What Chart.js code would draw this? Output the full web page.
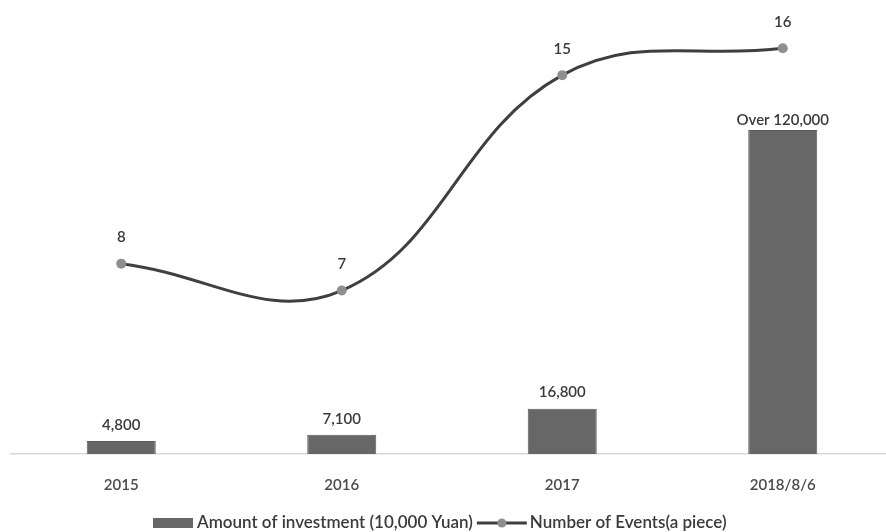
<!DOCTYPE html>
<html>
<head>
<meta charset="utf-8">
<script src="https://cdn.jsdelivr.net/npm/chart.js@4.4.1/dist/chart.umd.min.js"></script>
<style>
  html, body { margin: 0; padding: 0; background: #ffffff; overflow: hidden; }
  #wrap { position: relative; width: 904px; height: 532px; }
</style>
</head>
<body>
<div id="wrap"><canvas id="chart"></canvas></div>
<script>
// Investment amount and number of events per year
const categories = ['2015', '2016', '2017', '2018/8/6'];
const investment = [4800, 7100, 16800, 120000];
const investmentLabels = ['4,800', '7,100', '16,800', 'Over 120,000'];
const events = [8, 7, 15, 16];
const seriesNames = ['Amount of investment (10,000 Yuan)', 'Number of Events(a piece)'];

const FONT = 'Lato, "Open Sans", sans-serif';
const WEIGHT = '600';
const TEXT = '#3a3a3a';
const BAR = '#676767';
const LINE = '#3f3f3f';
const DOT = '#8f8f8f';

// Value labels above bars and points
const valueLabels = {
  id: 'valueLabels',
  afterDatasetsDraw(chart) {
    const ctx = chart.ctx;
    ctx.save();
    ctx.font = WEIGHT + ' 15px ' + FONT;
    ctx.fillStyle = TEXT;
    ctx.textAlign = 'center';
    ctx.textBaseline = 'middle';
    chart.getDatasetMeta(0).data.forEach((el, i) => {
      const gap = i === investment.length - 1 ? 10 : 16;
      ctx.fillText(investmentLabels[i], el.x, el.y - gap);
    });
    chart.getDatasetMeta(1).data.forEach((el, i) => {
      ctx.fillText(String(events[i]), el.x, el.y - 26);
    });
    ctx.restore();
  }
};

// Legend along the bottom: bar swatch, then line-with-marker symbol
const bottomLegend = {
  id: 'bottomLegend',
  afterDraw(chart) {
    const ctx = chart.ctx;
    const y = 523;
    ctx.save();
    ctx.font = WEIGHT + ' 17px ' + FONT;
    ctx.textBaseline = 'middle';
    let x = 153;
    ctx.fillStyle = BAR;
    ctx.fillRect(x, y - 5, 40, 10);
    x += 44;
    ctx.fillStyle = TEXT;
    ctx.fillText(seriesNames[0], x, y);
    x += ctx.measureText(seriesNames[0]).width + 4;
    ctx.strokeStyle = LINE;
    ctx.lineWidth = 3;
    ctx.beginPath();
    ctx.moveTo(x, y);
    ctx.lineTo(x + 50, y);
    ctx.stroke();
    ctx.fillStyle = DOT;
    ctx.beginPath();
    ctx.arc(x + 25, y, 4.5, 0, Math.PI * 2);
    ctx.fill();
    x += 53;
    ctx.fillStyle = TEXT;
    ctx.fillText(seriesNames[1], x, y);
    ctx.restore();
  }
};

new Chart(document.getElementById('chart'), {
  data: {
    labels: categories,
    datasets: [
      {
        type: 'bar',
        label: seriesNames[0],
        data: investment,
        backgroundColor: BAR,
        borderColor: '#5c5c5c',
        borderWidth: 1,
        barPercentage: 0.313,
        categoryPercentage: 1,
        yAxisID: 'y',
        order: 2
      },
      {
        type: 'line',
        label: seriesNames[1],
        data: events,
        borderColor: LINE,
        borderWidth: 3,
        tension: 0.4,
        pointRadius: 5,
        pointBackgroundColor: DOT,
        pointBorderColor: DOT,
        pointBorderWidth: 0,
        yAxisID: 'y1',
        order: 1,
        clip: false
      }
    ]
  },
  options: {
    responsive: true,
    maintainAspectRatio: false,
    devicePixelRatio: 1,
    animation: false,
    layout: { padding: { top: 10, left: 11, right: 11, bottom: 15 } },
    plugins: {
      legend: { display: false },
      tooltip: { enabled: false }
    },
    scales: {
      x: {
        offset: true,
        grid: { display: false, drawTicks: false },
        border: { display: true, color: '#d9d9d9', width: 1.5 },
        ticks: { color: '#4a4a4a', font: { family: FONT, size: 15, weight: WEIGHT }, padding: 22.5 }
      },
      y: { display: false, min: 0, max: 164500 },
      y1: { display: false, min: 0.93, max: 17.42 }
    }
  },
  plugins: [valueLabels, bottomLegend]
});
</script>
</body>
</html>
